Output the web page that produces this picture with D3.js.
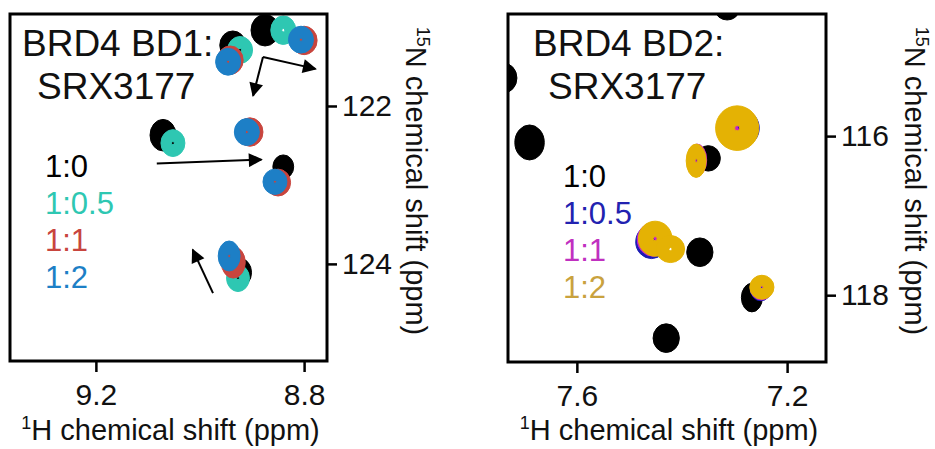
<!DOCTYPE html>
<html>
<head>
<meta charset="utf-8">
<script src="https://cdn.jsdelivr.net/npm/d3@7"></script>
<style>
  body { margin: 0; background: #fff; }
  svg { font-family: "Liberation Sans", Arial, sans-serif; }
  .axis path.domain { display: none; }
  .axis line { stroke: #000; stroke-width: 2.5; }
  .axis text { font-size: 30px; fill: #111; }
</style>
</head>
<body>
<svg id="chart" width="935" height="449"></svg>
<script>
// titration ratios (protein : SRX3177)
const bd1Ratios = ["1:0", "1:0.5", "1:1", "1:2"];
const bd2Ratios = ["1:0", "1:0.5", "1:1", "1:2"];

// peaks: ratio, 1H ppm, 15N ppm, 1H half-width, 15N half-width (ppm)
const bd1Peaks = [
    {r: "1:0",   h: 8.937, n: 121.23, wh: 0.025, wn: 0.18},
    {r: "1:0",   h: 8.875, n: 121.04, wh: 0.027, wn: 0.20},
    {r: "1:0",   h: 9.071, n: 122.37, wh: 0.025, wn: 0.20},
    {r: "1:0",   h: 8.840, n: 122.77, wh: 0.020, wn: 0.15},
    {r: "1:0",   h: 8.923, n: 124.11, wh: 0.022, wn: 0.18},
    {r: "1:0.5", h: 8.923, n: 121.29, wh: 0.024, wn: 0.17},
    {r: "1:0.5", h: 8.840, n: 121.04, wh: 0.024, wn: 0.18},
    {r: "1:0.5", h: 9.052, n: 122.47, wh: 0.023, wn: 0.17},
    {r: "1:0.5", h: 8.927, n: 124.18, wh: 0.022, wn: 0.17},
    {r: "1:1",   h: 8.942, n: 121.42, wh: 0.025, wn: 0.18},
    {r: "1:1",   h: 8.800, n: 121.17, wh: 0.025, wn: 0.18},
    {r: "1:1",   h: 8.904, n: 122.33, wh: 0.025, wn: 0.18},
    {r: "1:1",   h: 8.850, n: 122.97, wh: 0.024, wn: 0.17},
    {r: "1:1",   h: 8.936, n: 123.98, wh: 0.023, wn: 0.20},
    {r: "1:2",   h: 8.946, n: 121.44, wh: 0.024, wn: 0.17},
    {r: "1:2",   h: 8.806, n: 121.16, wh: 0.024, wn: 0.17},
    {r: "1:2",   h: 8.910, n: 122.33, wh: 0.024, wn: 0.17},
    {r: "1:2",   h: 8.856, n: 122.96, wh: 0.023, wn: 0.16},
    {r: "1:2",   h: 8.944, n: 123.90, wh: 0.021, wn: 0.19}
];

const bd2Peaks = [
    {r: "1:0",   h: 7.740, n: 115.27, wh: 0.026, wn: 0.19},
    {r: "1:0",   h: 7.314, n: 114.42, wh: 0.022, wn: 0.12},
    {r: "1:0",   h: 7.690, n: 116.08, wh: 0.028, wn: 0.22},
    {r: "1:0",   h: 7.350, n: 116.28, wh: 0.023, wn: 0.16},
    {r: "1:0",   h: 7.366, n: 117.46, wh: 0.025, wn: 0.18},
    {r: "1:0",   h: 7.267, n: 118.03, wh: 0.020, wn: 0.18},
    {r: "1:0",   h: 7.430, n: 118.54, wh: 0.025, wn: 0.18},
    {r: "1:0.5", h: 7.283, n: 115.90, wh: 0.030, wn: 0.22},
    {r: "1:0.5", h: 7.372, n: 116.30, wh: 0.018, wn: 0.19},
    {r: "1:0.5", h: 7.458, n: 117.33, wh: 0.030, wn: 0.21},
    {r: "1:0.5", h: 7.250, n: 117.92, wh: 0.020, wn: 0.15},
    {r: "1:1",   h: 7.290, n: 115.89, wh: 0.034, wn: 0.25},
    {r: "1:1",   h: 7.371, n: 116.30, wh: 0.018, wn: 0.20},
    {r: "1:1",   h: 7.455, n: 117.30, wh: 0.030, wn: 0.21},
    {r: "1:1",   h: 7.249, n: 117.91, wh: 0.021, wn: 0.15},
    {r: "1:2",   h: 7.295, n: 115.90, wh: 0.041, wn: 0.28},
    {r: "1:2",   h: 7.373, n: 116.31, wh: 0.019, wn: 0.21},
    {r: "1:2",   h: 7.451, n: 117.29, wh: 0.032, wn: 0.22},
    {r: "1:2",   h: 7.422, n: 117.42, wh: 0.027, wn: 0.17},
    {r: "1:2",   h: 7.248, n: 117.90, wh: 0.023, wn: 0.15}
];

// chemical shift perturbation arrows: from (h1, n1) to (h2, n2)
const bd1Arrows = [
    {h1: 8.879, n1: 121.38, h2: 8.898, n2: 121.87},
    {h1: 8.879, n1: 121.38, h2: 8.778, n2: 121.53},
    {h1: 9.083, n1: 122.73, h2: 8.882, n2: 122.68},
    {h1: 8.975, n1: 124.37, h2: 9.014, n2: 123.82}
];
const bd2Arrows = [];

const bd1Ticks = {h: [9.2, 8.8], n: [122, 124]};
const bd2Ticks = {h: [7.6, 7.2], n: [116, 118]};

const bd1Colors = {"1:0": "#000000", "1:0.5": "#2ec7b2", "1:1": "#c8453e", "1:2": "#1d7fc6"};
const bd2Colors = {"1:0": "#000000", "1:0.5": "#1c1cb4", "1:1": "#c823c8", "1:2": "#e4b204"};
const bd2TextColors = {"1:0": "#000000", "1:0.5": "#2222b0", "1:1": "#c030c0", "1:2": "#c9a23e"};

const svg = d3.select("#chart");

svg.append("defs").append("marker")
    .attr("id", "arrowhead")
    .attr("viewBox", "0 0 10 10")
    .attr("refX", 9).attr("refY", 5)
    .attr("markerWidth", 16).attr("markerHeight", 14)
    .attr("markerUnits", "userSpaceOnUse")
    .attr("orient", "auto")
    .append("path")
    .attr("d", "M0,0 L10,5 L0,10 Z")
    .attr("fill", "#000");

const ellipsePath = (cx, cy, rx, ry, hole) => {
    const ring = (a, b) => "M" + (cx - a) + "," + cy +
        "a" + a + "," + b + " 0 1,0 " + (2 * a) + ",0" +
        "a" + a + "," + b + " 0 1,0 " + (-2 * a) + ",0Z";
    return hole > 0 ? ring(rx, ry) + ring(rx * hole, ry * hole) : ring(rx, ry);
};

function drawPanel(cfg) {
    const x = d3.scaleLinear().domain(cfg.hDomain).range([cfg.left, cfg.right]);
    const y = d3.scaleLinear().domain(cfg.nDomain).range([cfg.top, cfg.bottom]);

    const g = svg.append("g").attr("class", cfg.id);

    g.append("clipPath").attr("id", cfg.id + "-clip")
        .append("rect")
        .attr("x", cfg.left).attr("y", cfg.top)
        .attr("width", cfg.right - cfg.left).attr("height", cfg.bottom - cfg.top);

    const plot = g.append("g").attr("clip-path", "url(#" + cfg.id + "-clip)");

    // peaks, drawn in titration order so later points sit on top
    cfg.ratios.forEach((r, i) => {
        plot.selectAll("path.peak" + i)
            .data(cfg.peaks.filter(p => p.r == r))
            .enter()
            .append("path")
            .attr("class", "peak" + i)
            .attr("d", p => {
                const cx = x(p.h), cy = y(p.n);
                const rx = Math.abs(x(p.h + p.wh) - cx);
                const ry = Math.abs(y(p.n + p.wn) - cy);
                return ellipsePath(cx, cy, rx, ry, i == 0 ? 0 : 0.12);
            })
            .attr("fill", cfg.colors[r])
            .attr("fill-rule", "evenodd")
            .attr("stroke", cfg.colors[r])
            .attr("stroke-width", 1);
    });

    plot.selectAll("line.arrow").data(cfg.arrows).enter()
        .append("line")
        .attr("class", "arrow")
        .attr("x1", d => x(d.h1)).attr("y1", d => y(d.n1))
        .attr("x2", d => x(d.h2)).attr("y2", d => y(d.n2))
        .attr("stroke", "#000")
        .attr("stroke-width", 2)
        .attr("marker-end", "url(#arrowhead)");

    // frame
    g.append("rect")
        .attr("x", cfg.left).attr("y", cfg.top)
        .attr("width", cfg.right - cfg.left).attr("height", cfg.bottom - cfg.top)
        .attr("fill", "none").attr("stroke", "#000").attr("stroke-width", 3);

    g.append("g")
        .attr("class", "axis")
        .attr("transform", "translate(0," + cfg.bottom + ")")
        .call(d3.axisBottom(x).tickValues(cfg.ticks.h).tickSize(11).tickPadding(12).tickFormat(d3.format(".1f")));

    g.append("g")
        .attr("class", "axis")
        .attr("transform", "translate(" + cfg.right + ",0)")
        .call(d3.axisRight(y).tickValues(cfg.ticks.n).tickSize(10).tickPadding(5).tickFormat(d3.format("d")));

    // titles
    const title = g.append("g").style("font-size", "37px").attr("fill", "#111");
    title.append("text").attr("x", cfg.titleX[0]).attr("y", 56).text(cfg.title[0]);
    title.append("text").attr("x", cfg.titleX[1]).attr("y", 99).text(cfg.title[1]);

    // legend
    g.selectAll("text.legend").data(cfg.ratios).enter()
        .append("text")
        .attr("class", "legend")
        .attr("x", cfg.legendX)
        .attr("y", (d, i) => cfg.legendY + i * 37)
        .style("font-size", "31px")
        .attr("fill", d => cfg.textColors[d])
        .text(d => d);

    // axis titles
    const xl = g.append("text")
        .attr("x", (cfg.left + cfg.right) / 2 + 2)
        .attr("y", 440)
        .attr("text-anchor", "middle")
        .style("font-size", "29px")
        .attr("fill", "#111");
    xl.append("tspan").style("font-size", "18px").attr("dy", -11).text("1");
    xl.append("tspan").attr("dy", 11).text("H chemical shift (ppm)");

    const yl = g.append("text")
        .attr("transform", "translate(" + (cfg.right + 79) + "," + 181 + ") rotate(90)")
        .attr("text-anchor", "middle")
        .style("font-size", "29px")
        .attr("fill", "#111");
    yl.append("tspan").style("font-size", "18px").attr("dy", -11).text("15");
    yl.append("tspan").attr("dy", 11).text("N chemical shift (ppm)");
}

drawPanel({
    id: "bd1", left: 10, right: 327, top: 14, bottom: 361,
    hDomain: [9.365, 8.756], nDomain: [120.835, 125.23],
    ratios: bd1Ratios, peaks: bd1Peaks, arrows: bd1Arrows, ticks: bd1Ticks,
    colors: bd1Colors, textColors: bd1Colors,
    title: ["BRD4 BD1:", "SRX3177"], titleX: [22, 37],
    legendX: 45, legendY: 177
});

drawPanel({
    id: "bd2", left: 508, right: 826, top: 14, bottom: 362,
    hDomain: [7.731, 7.126], nDomain: [114.465, 118.84],
    ratios: bd2Ratios, peaks: bd2Peaks, arrows: bd2Arrows, ticks: bd2Ticks,
    colors: bd2Colors, textColors: bd2TextColors,
    title: ["BRD4 BD2:", "SRX3177"], titleX: [533, 548],
    legendX: 563, legendY: 187
});
</script>
</body>
</html>
